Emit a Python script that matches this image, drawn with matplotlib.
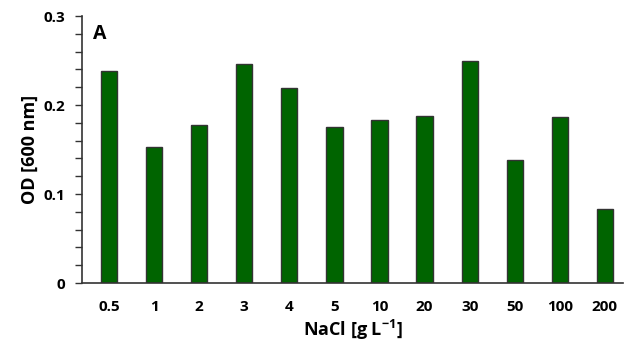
import numpy as np
import matplotlib.pyplot as plt
from matplotlib.ticker import MultipleLocator

# Данные
nacl_labels = ['0.5', '1', '2', '3', '4', '5', '10', '20', '30', '50', '100', '200']
od_values = [0.238, 0.153, 0.178, 0.246, 0.219, 0.175, 0.183, 0.188, 0.249, 0.138, 0.187, 0.083]

plt.rcParams['font.family'] = ['Open Sans', 'DejaVu Sans']
plt.rcParams['font.weight'] = 'bold'
plt.rcParams['mathtext.fontset'] = 'custom'
plt.rcParams['mathtext.rm'] = 'Open Sans:bold'
plt.rcParams['mathtext.bf'] = 'Open Sans:bold'
plt.rcParams['mathtext.default'] = 'rm'

fig = plt.figure(figsize=(6.26, 3.49), dpi=100)
ax = fig.add_axes([0.131, 0.189, 0.864, 0.765])

x = np.arange(len(nacl_labels))
ax.bar(x, od_values, width=0.36, color='#006400', edgecolor='#333333', linewidth=1.0)

ax.set_xlim(-0.6, 11.4)
ax.set_ylim(0, 0.3)
ax.set_xticks(x)
ax.set_xticklabels(nacl_labels, fontsize=11, fontweight='bold')
ax.tick_params(axis='x', length=0, pad=12)
ax.set_yticks([0, 0.1, 0.2, 0.3])
ax.set_yticklabels(['0', '0.1', '0.2', '0.3'], fontsize=11, fontweight='bold')
ax.yaxis.set_minor_locator(MultipleLocator(0.02))
ax.tick_params(axis='y', which='both', length=5, width=1, color='#333333', pad=7)

for s in ['top', 'right']:
    ax.spines[s].set_visible(False)
for s in ['left', 'bottom']:
    ax.spines[s].set_color('#333333')
    ax.spines[s].set_linewidth(1.2)

ax.set_xlabel('NaCl [g L$^{-1}$]', fontsize=13, fontweight='bold', labelpad=3)
ax.set_ylabel('OD [600 nm]', fontsize=13, fontweight='bold')
ax.yaxis.set_label_coords(-0.08, 0.5)
ax.text(0.02, 0.97, 'A', transform=ax.transAxes, fontsize=14, fontweight='bold', va='top')

fig.savefig('out.png', dpi=100)
